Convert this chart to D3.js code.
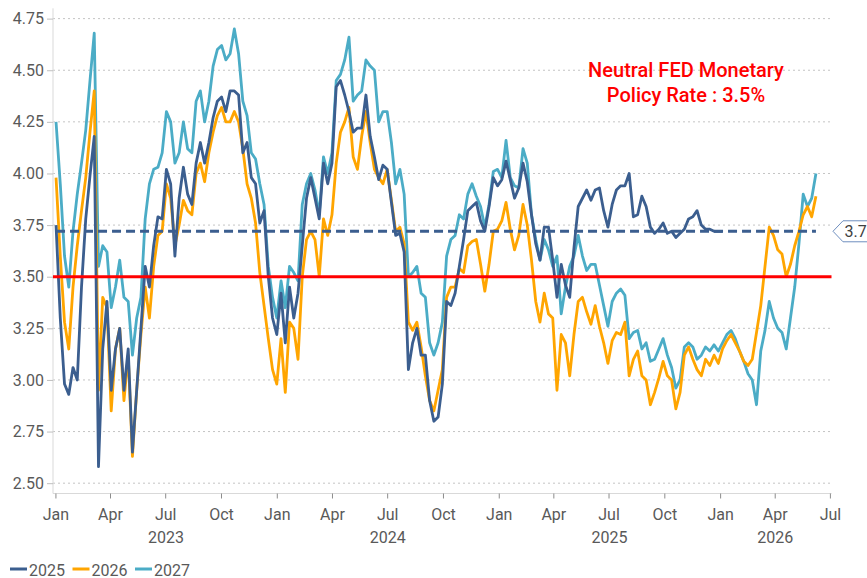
<!DOCTYPE html>
<html>
<head>
<meta charset="utf-8">
<script src="https://cdn.jsdelivr.net/npm/d3@7"></script>
<style>
  body { margin: 0; background: #fff; }
  text { font-family: Roboto, "Open Sans", sans-serif; }
</style>
</head>
<body>
<div id="chart"></div>
<script>
// weekly readings, first point on this date
var firstWeek = "2023-01-02";

var series2025 = [
  3.75, 3.30, 2.98, 2.93, 3.06, 3.00, 3.45, 3.78, 3.99, 4.18,
  2.58, 3.15, 3.38, 2.95, 3.15, 3.25, 2.95, 3.15, 2.65, 2.95,
  3.25, 3.55, 3.45, 3.65, 3.79, 3.78, 4.02, 3.95, 3.60, 3.88,
  4.03, 3.90, 3.85, 4.05, 4.15, 4.05, 4.15, 4.27, 4.35, 4.37,
  4.30, 4.40, 4.40, 4.38, 4.10, 4.15, 3.98, 3.95, 3.76, 3.82,
  3.50, 3.30, 3.22, 3.42, 3.18, 3.45, 3.30, 3.42, 3.65, 3.88,
  3.98, 3.88, 3.78, 4.05, 3.95, 4.05, 4.42, 4.45, 4.38, 4.30,
  4.20, 4.22, 4.22, 4.38, 4.18, 4.08, 3.97, 4.04, 4.02, 3.86,
  3.70, 3.71, 3.62, 3.05, 3.18, 3.25, 3.12, 3.12, 2.90, 2.80,
  2.82, 2.98, 3.38, 3.36, 3.42, 3.55, 3.68, 3.82, 3.84, 3.86,
  3.77, 3.72, 3.84, 3.98, 3.94, 3.97, 4.06, 3.97, 3.88, 3.93,
  4.05, 3.96, 3.80, 3.66, 3.58, 3.74, 3.74, 3.58, 3.40, 3.56,
  3.46, 3.40, 3.64, 3.84, 3.88, 3.92, 3.87, 3.92, 3.93, 3.82,
  3.74, 3.85, 3.92, 3.94, 3.94, 4.00, 3.79, 3.80, 3.89, 3.84,
  3.74, 3.71, 3.73, 3.76, 3.71, 3.72, 3.69, 3.71, 3.73, 3.78,
  3.79, 3.82, 3.75, 3.73, 3.73, 3.72, 3.72, 3.72
];

var series2026 = [
  3.98, 3.60, 3.28, 3.15, 3.45, 3.65, 3.82, 3.98, 4.20, 4.40,
  2.95, 3.40, 3.35, 2.85, 3.15, 3.25, 2.90, 3.12, 2.63, 2.95,
  3.22, 3.45, 3.30, 3.55, 3.70, 3.72, 3.95, 3.88, 3.65, 3.75,
  3.87, 3.82, 3.80, 4.00, 4.05, 3.96, 4.10, 4.20, 4.28, 4.32,
  4.25, 4.25, 4.30, 4.25, 4.12, 3.95, 3.88, 3.76, 3.52, 3.36,
  3.20, 3.05, 2.98, 3.20, 2.94, 3.28, 3.25, 3.10, 3.50, 3.68,
  3.72, 3.68, 3.50, 3.78, 3.70, 3.80, 4.05, 4.20, 4.25, 4.32,
  4.08, 4.02, 4.18, 4.30, 4.15, 4.02, 3.98, 3.95, 4.02, 3.87,
  3.72, 3.74, 3.66, 3.28, 3.24, 3.28, 3.16, 3.02, 2.90, 2.85,
  2.95, 3.05, 3.40, 3.45, 3.45, 3.54, 3.52, 3.65, 3.67, 3.68,
  3.56, 3.43, 3.56, 3.72, 3.73, 3.77, 3.86, 3.73, 3.63, 3.70,
  3.85, 3.75, 3.58, 3.38, 3.28, 3.42, 3.32, 3.30, 2.95, 3.22,
  3.18, 3.02, 3.22, 3.38, 3.40, 3.33, 3.27, 3.36, 3.26, 3.18,
  3.08, 3.19, 3.23, 3.22, 3.28, 3.02, 3.10, 3.14, 3.02, 3.00,
  2.88, 2.94, 3.01, 3.09, 3.02, 3.00, 2.86, 2.94, 3.12, 3.16,
  3.10, 3.05, 3.02, 3.10, 3.07, 3.12, 3.08, 3.15, 3.19, 3.22,
  3.18, 3.14, 3.09, 3.07, 3.10, 3.23, 3.36, 3.55, 3.74, 3.70,
  3.63, 3.61, 3.50, 3.56, 3.65, 3.72, 3.80, 3.84, 3.79, 3.89
];

var series2027 = [
  4.25, 3.95, 3.60, 3.45, 3.72, 3.90, 4.05, 4.21, 4.45, 4.68,
  3.55, 3.65, 3.62, 3.35, 3.45, 3.58, 3.40, 3.38, 3.12, 3.30,
  3.40, 3.78, 3.95, 4.02, 4.03, 4.10, 4.30, 4.25, 4.05, 4.10,
  4.25, 4.12, 4.10, 4.35, 4.40, 4.25, 4.35, 4.52, 4.60, 4.62,
  4.55, 4.58, 4.70, 4.58, 4.35, 4.28, 4.10, 4.07, 3.95, 3.85,
  3.55, 3.40, 3.30, 3.48, 3.35, 3.55, 3.52, 3.48, 3.85, 3.95,
  4.00, 3.92, 3.80, 4.08, 4.00, 4.10, 4.45, 4.48, 4.55, 4.66,
  4.35, 4.38, 4.40, 4.55, 4.52, 4.50, 4.25, 4.30, 4.30, 4.15,
  3.95, 4.02, 3.90, 3.50, 3.52, 3.55, 3.42, 3.40, 3.18, 3.12,
  3.18, 3.28, 3.60, 3.68, 3.70, 3.80, 3.78, 3.90, 3.95, 3.89,
  3.84, 3.74, 3.85, 4.01, 4.02, 3.98, 4.16, 3.98, 3.94, 3.93,
  4.12, 4.05, 3.80, 3.68, 3.58, 3.68, 3.63, 3.55, 3.60, 3.32,
  3.45, 3.55, 3.60, 3.70, 3.60, 3.53, 3.56, 3.56, 3.46, 3.36,
  3.26, 3.38, 3.42, 3.44, 3.41, 3.20, 3.23, 3.24, 3.15, 3.18,
  3.09, 3.10, 3.15, 3.20, 3.12, 3.06, 2.96, 3.00, 3.16, 3.18,
  3.16, 3.10, 3.12, 3.16, 3.14, 3.17, 3.14, 3.18, 3.22, 3.24,
  3.20, 3.14, 3.09, 3.03, 3.00, 2.88, 3.14, 3.24, 3.38, 3.30,
  3.25, 3.23, 3.15, 3.30, 3.45, 3.66, 3.90, 3.84, 3.88, 4.00
];

var seriesNames = ["2025", "2026", "2027"];
var seriesColors = ["#3b5e8f", "#ffa500", "#4bacc6"];

var yTicks = [2.50, 2.75, 3.00, 3.25, 3.50, 3.75, 4.00, 4.25, 4.50, 4.75];
var monthLabels = ["Jan", "Apr", "Jul", "Oct"];
var years = [2023, 2024, 2025, 2026];

var neutralRate = 3.5;
var dashedLevel = 3.72;
var dashedLabel = "3.7";
var noteLines = ["Neutral FED Monetary", "Policy Rate : 3.5%"];

var width = 867, height = 578;
var plotLeft = 53, plotRight = 830.5, plotTop = 8.3, plotBottom = 493.5;

var parse = d3.utcParse("%Y-%m-%d");
var start = parse(firstWeek);

function toPoints(values) {
  return values.map(function (v, i) {
    return { date: d3.utcDay.offset(start, 7 * i), value: v };
  });
}

var allSeries = [series2025, series2026, series2027].map(function (vals, k) {
  return { name: seriesNames[k], color: seriesColors[k], points: toPoints(vals) };
});

var x = d3.scaleUtc()
  .domain([parse("2022-12-28"), parse("2026-07-02")])
  .range([plotLeft, plotRight]);

var y = d3.scaleLinear()
  .domain([2.45, 4.80])
  .range([plotBottom, plotTop]);

var svg = d3.select("#chart").append("svg")
  .attr("width", width)
  .attr("height", height);

// dotted grid
svg.append("g").selectAll("line")
  .data(yTicks)
  .enter().append("line")
  .attr("x1", plotLeft).attr("x2", plotRight + 1)
  .attr("y1", function (d) { return y(d); })
  .attr("y2", function (d) { return y(d); })
  .attr("stroke", "#c4c4c4")
  .attr("stroke-width", 1)
  .attr("stroke-dasharray", "2,3");

// y axis
var yAxis = svg.append("g")
  .attr("transform", "translate(" + plotLeft + ",0)")
  .call(d3.axisLeft(y).tickValues(yTicks).tickFormat(d3.format(".2f")).tickSize(6).tickPadding(3));
yAxis.select(".domain").attr("stroke", "#d9d9d9").attr("d", "M0," + plotTop + "V" + plotBottom);
yAxis.selectAll(".tick line").attr("stroke", "#bfbfbf");
yAxis.selectAll(".tick text").attr("fill", "#595959").style("font-size", "16px");

// x axis
var quarterTicks = d3.utcMonth.every(3).range(parse("2023-01-01"), parse("2026-07-02"));
var xAxis = svg.append("g")
  .attr("transform", "translate(0," + plotBottom + ")")
  .call(d3.axisBottom(x).tickValues(quarterTicks)
    .tickFormat(function (d) { return monthLabels[d.getUTCMonth() / 3]; })
    .tickSize(5).tickPadding(10));
xAxis.select(".domain").attr("stroke", "#d9d9d9").attr("d", "M" + plotLeft + ",0H" + (plotRight + 1));
xAxis.selectAll(".tick line").attr("stroke", "#8c8c8c");
xAxis.selectAll(".tick text").attr("fill", "#595959").style("font-size", "16px");

// year labels centred on the visible part of each year
svg.append("g").selectAll("text")
  .data(years)
  .enter().append("text")
  .attr("x", function (yr) {
    var a = d3.max([x.domain()[0], new Date(Date.UTC(yr, 0, 1))]);
    var b = d3.min([x.domain()[1], new Date(Date.UTC(yr + 1, 0, 1))]);
    return (x(a) + x(b)) / 2;
  })
  .attr("y", 543)
  .attr("text-anchor", "middle")
  .attr("fill", "#595959")
  .style("font-size", "16px")
  .text(function (d) { return d; });

// series lines, teal at the back, dark blue on top
var line = d3.line()
  .x(function (d) { return x(d.date); })
  .y(function (d) { return y(d.value); });

svg.append("g").selectAll("path")
  .data(allSeries.slice().reverse())
  .enter().append("path")
  .attr("d", function (s) { return line(s.points); })
  .attr("fill", "none")
  .attr("stroke", function (s) { return s.color; })
  .attr("stroke-width", 2.8)
  .attr("stroke-linejoin", "round");

// dashed level across the data span
var spanStart = allSeries[0].points[0].date;
var spanEnd = allSeries[1].points[allSeries[1].points.length - 1].date;
svg.append("line")
  .attr("x1", x(spanStart)).attr("x2", x(spanEnd))
  .attr("y1", y(dashedLevel)).attr("y2", y(dashedLevel))
  .attr("stroke", "#3b5e8f")
  .attr("stroke-width", 3)
  .attr("stroke-dasharray", "9,5");

// neutral rate line
svg.append("line")
  .attr("x1", plotLeft).attr("x2", plotRight + 1)
  .attr("y1", y(neutralRate)).attr("y2", y(neutralRate))
  .attr("stroke", "#ff0000")
  .attr("stroke-width", 3);

// callout for the dashed level
var cy = y(dashedLevel);
svg.append("path")
  .attr("d", "M" + (plotRight + 2.5) + "," + cy + "L" + (plotRight + 12.5) + "," + (cy - 10.5) +
    "H" + (width + 5) + "V" + (cy + 10.5) + "H" + (plotRight + 12.5) + "Z")
  .attr("fill", "#fff")
  .attr("stroke", "#6f8fbf")
  .attr("stroke-width", 1);
svg.append("text")
  .attr("x", plotRight + 14)
  .attr("y", cy + 6)
  .attr("fill", "#404040")
  .style("font-size", "16px")
  .text(dashedLabel);

// annotation
svg.append("g").selectAll("text")
  .data(noteLines)
  .enter().append("text")
  .attr("x", 686)
  .attr("y", function (d, i) { return 77 + i * 25; })
  .attr("text-anchor", "middle")
  .attr("fill", "#ff0000")
  .style("font-size", "20px")
  .style("font-weight", 500)
  .text(function (d) { return d; });

// legend
var legend = svg.append("g").attr("transform", "translate(10,569)");
var item = legend.selectAll("g")
  .data(allSeries)
  .enter().append("g")
  .attr("transform", function (d, i) { return "translate(" + (i * 62.5) + ",0)"; });
item.append("line")
  .attr("x1", 0).attr("x2", 17)
  .attr("stroke", function (d) { return d.color; })
  .attr("stroke-width", 3);
item.append("text")
  .attr("x", 19)
  .attr("y", 6.5)
  .attr("fill", "#595959")
  .style("font-size", "16px")
  .text(function (d) { return d.name; });
</script>
</body>
</html>
